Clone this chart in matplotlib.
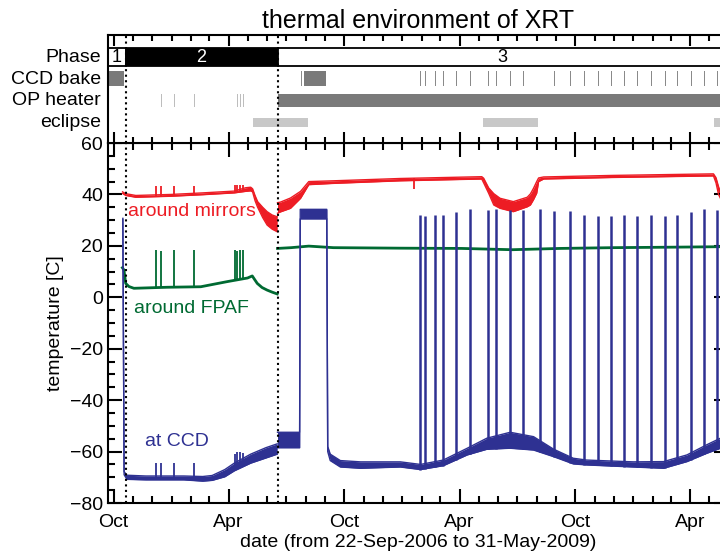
import numpy as np
import matplotlib
matplotlib.use('Agg')
import matplotlib.pyplot as plt
import matplotlib.dates as mdates
from matplotlib.ticker import MultipleLocator, NullLocator
from datetime import datetime

plt.rcParams['font.family'] = ['Liberation Sans', 'DejaVu Sans']

# time axis: days counted from 22-Sep-2006 (end 31-May-2009)
t0 = mdates.date2num(datetime(2006, 9, 22))
t1 = mdates.date2num(datetime(2009, 5, 31))

# phases (day boundaries)
phase_edges = [0, 28, 268.5, 982]
phase_names = ['1', '2', '3']

# status rows: blocks (start, end) and short events (day)
ccd_bake_blocks = [(0, 25), (310, 346)]
op_heater_blocks = [(268.5, 982)]
eclipse_blocks = [(229, 316), (594, 681.5), (960, 982)]
heater_days = [75.5, 84.5, 105, 137, 200.5, 204.7, 209, 214]
bake_days = [494.8, 502.7, 517.4, 530.7, 551.7, 573.9, 601.3, 615.0, 636.1, 657.3,
             683.5, 706.3, 731.2, 754.3, 775.9, 796.5, 817.6, 838.6, 859.8, 882.4,
             901.9, 923.1, 944.1, 965.2]
bake_peak = [32.0, 31.6, 32.0, 32.0, 33.0, 34.2, 33.9, 34.2, 33.9, 33.9,
             34.3, 33.7, 33.7, 32.0, 31.6, 31.6, 32.0, 31.6, 32.0, 31.6,
             32.0, 33.0, 34.2, 33.9]

# around mirrors (band lo/hi)
red2_days = [23, 28, 44, 100, 150, 200, 218, 226, 229, 233, 237, 245, 252, 260, 268]
red2_hi = [41.0, 40.3, 39.6, 40.0, 40.6, 41.3, 42.6, 42.8, 42.2, 39.5, 37.2, 35.0, 33.3, 32.0, 31.3]
red2_lo = [40.4, 39.6, 38.9, 39.3, 39.9, 40.6, 41.2, 41.4, 41.0, 37.5, 35.0, 31.0, 28.1, 26.5, 25.5]
red3_days = [268.5, 273, 289, 305, 318, 357, 463, 592, 595, 603, 611, 621, 642, 664,
             669, 674, 679, 682, 690, 800, 959, 963, 967, 970, 982]
red3_hi = [36.8, 37.0, 38.6, 41.2, 45.0, 45.3, 46.2, 46.9, 46.3, 42.5, 40.3, 38.5, 37.2, 38.9,
           40.2, 42.4, 45.0, 46.4, 46.8, 47.4, 48.0, 46.5, 43.0, 41.0, 37.0]
red3_lo = [32.7, 33.2, 34.6, 38.5, 43.8, 44.3, 45.3, 46.0, 44.5, 40.4, 35.9, 34.6, 33.3, 35.2,
           35.9, 38.0, 40.5, 45.0, 46.0, 46.6, 47.2, 44.5, 40.0, 38.5, 33.0]
red_heater_peak = [43.3, 43.3, 43.3, 43.3, 43.5, 43.5, 43.5, 43.5]
red_dip_day, red_dip_low = 484.2, 42.0

# around FPAF
green2_days = [22.8, 25.3, 28, 33, 41, 94, 147, 189, 221, 228.5, 232, 236.4, 244, 252, 260, 268]
green2 = [11.5, 10.6, 5.4, 4.2, 3.5, 3.9, 4.1, 6.1, 7.5, 8.3, 7.0, 5.4, 3.8, 2.8, 2.0, 1.3]
green3_days = [268.5, 290, 318, 357, 463, 560, 640, 716, 800, 900, 982]
green3 = [19.0, 19.3, 19.9, 19.3, 19.1, 19.0, 18.5, 19.0, 19.3, 19.5, 19.7]
green_heater_peak = [18.4, 18.0, 18.4, 18.4, 18.4, 18.0, 18.4, 18.4]

# at CCD (band lo/hi)
blue2_days = [23.5, 25.5, 30, 60, 120, 150, 165, 185, 200, 226, 250, 268]
blue2_hi = [30.7, -67.8, -69.2, -69.5, -69.5, -69.7, -69.3, -67.0, -64.5, -61.0, -58.5, -57.0]
blue2_lo = [30.3, -69.0, -70.8, -71.0, -71.0, -71.5, -71.2, -69.8, -67.5, -64.5, -62.5, -61.0]
blue3_days = [268.5, 303.5, 304.5, 346.5, 348, 352, 368, 400, 463, 495, 531, 569, 600, 637,
              674, 706, 737, 758, 832, 880, 917, 948, 970, 982]
blue3_hi = [-52.5, -52.5, 34.2, 34.2, -58.0, -61.0, -63.5, -64.0, -64.0, -65.0, -63.3, -58.7,
            -54.8, -52.5, -54.2, -59.1, -62.6, -63.3, -64.0, -63.9, -61.3, -57.4, -54.8, -53.0]
blue3_lo = [-58.5, -58.5, 30.5, 30.5, -60.0, -63.5, -66.0, -66.5, -66.0, -67.0, -65.5, -61.3,
            -59.1, -58.7, -59.4, -62.0, -64.8, -65.2, -66.0, -66.5, -63.9, -60.7, -58.7, -57.0]
blue_heater_peak = [-64.6, -64.6, -64.6, -64.6, -61.0, -60.0, -60.0, -60.5]

RED = '#ed1c24'
GREEN = '#006a32'
BLUE = '#2e3192'

fig = plt.figure(figsize=(7.2, 5.57), dpi=100)
x0, x1 = 108 / 720, 728 / 720
ax = fig.add_axes([x0, 54 / 557, x1 - x0, 360 / 557])
ax_s = fig.add_axes([x0, 414 / 557, x1 - x0, 108 / 557])


def d(days):
    return t0 + np.asarray(days, dtype=float)


def band(axis, days, lo, hi, color):
    axis.fill_between(d(days), lo, hi, color=color, lw=0)
    axis.plot(d(days), lo, color=color, lw=1)
    axis.plot(d(days), hi, color=color, lw=1)


# ---- main temperature panel
band(ax, red2_days, red2_lo, red2_hi, RED)
band(ax, red3_days, red3_lo, red3_hi, RED)
ax.vlines(d(heater_days), np.interp(heater_days, red2_days, red2_lo), red_heater_peak,
          color=RED, lw=1.3)
ax.vlines(d([red_dip_day]), red_dip_low, np.interp(red_dip_day, red3_days, red3_hi),
          color=RED, lw=1.3)

ax.plot(d(green2_days), green2, color=GREEN, lw=2)
ax.plot(d(green3_days), green3, color=GREEN, lw=2)
ax.vlines(d(heater_days), np.interp(heater_days, green2_days, green2), green_heater_peak,
          color=GREEN, lw=1.3)

band(ax, blue2_days, blue2_lo, blue2_hi, BLUE)
band(ax, blue3_days, blue3_lo, blue3_hi, BLUE)
ax.vlines(d(heater_days), np.interp(heater_days, blue2_days, blue2_lo), blue_heater_peak,
          color=BLUE, lw=1.3)
ax.vlines(d(bake_days), np.interp(bake_days, blue3_days, blue3_lo), bake_peak,
          color=BLUE, lw=1.8)

ax.text(d(31), 33.2, 'around mirrors', color=RED, fontsize=14, va='center')
ax.text(d(41), -4.3, 'around FPAF', color=GREEN, fontsize=14, va='center')
ax.text(d(58), -56, 'at CCD', color=BLUE, fontsize=14, va='center')

for e in phase_edges[1:3]:
    ax.axvline(d(e), color='black', ls=':', lw=1.5)
    ax_s.axvline(d(e), color='black', ls=':', lw=1.5)

ax.set_xlim(t0, t1)
ax.set_ylim(-80, 60)
ax.xaxis.set_major_locator(mdates.MonthLocator(bymonth=[4, 10]))
ax.xaxis.set_minor_locator(mdates.MonthLocator())
ax.xaxis.set_major_formatter(mdates.DateFormatter('%b'))
ax.yaxis.set_major_locator(MultipleLocator(20))
ax.yaxis.set_minor_locator(MultipleLocator(5))
ax.tick_params(which='both', direction='in', top=True, right=True, width=1.5, labelsize=14)
ax.tick_params(which='major', length=10)
ax.tick_params(which='minor', length=5)
ax.tick_params(axis='x', pad=8)
ax.set_ylabel('temperature [C]', fontsize=14)
ax.set_xlabel('date (from 22-Sep-2006 to 31-May-2009)', fontsize=14, labelpad=2)
for s in ax.spines.values():
    s.set_linewidth(1.5)

# ---- status panel (y in pixels from its top)
ax_s.set_xlim(t0, t1)
ax_s.set_ylim(108, 0)
for (a, b), name, fc, tc in zip(zip(phase_edges[:-1], phase_edges[1:]), phase_names,
                                ['white', 'black', 'white'], ['black', 'white', 'black']):
    ax_s.barh(22, b - a, left=d(a), height=18, color=fc, edgecolor='black', lw=1.3)
    ax_s.text(d((a + b) / 2), 22.5, name, color=tc, fontsize=13, ha='center', va='center')

ax_s.broken_barh([(d(a), b - a) for a, b in ccd_bake_blocks], (36, 15), facecolors='#7a7a7a')
ax_s.broken_barh([(d(x), 1.5) for x in bake_days] + [(d(306), 1.0)], (36, 15),
                 facecolors='#8a8a8a')
ax_s.broken_barh([(d(a), b - a) for a, b in op_heater_blocks], (59, 13), facecolors='#7a7a7a')
ax_s.broken_barh([(d(x), 1.0) for x in heater_days], (59, 13), facecolors='#bdbdbd')
ax_s.broken_barh([(d(a), b - a) for a, b in eclipse_blocks], (83, 9), facecolors='#c8c8c8')

row_names = ['Phase', 'CCD bake', 'OP heater', 'eclipse']
row_y = [22, 44, 65.5, 87.5]
for name, y in zip(row_names, row_y):
    ax_s.text(-0.011, y, name, transform=ax_s.get_yaxis_transform(), fontsize=14,
              ha='right', va='center')

ax_s.xaxis.set_major_locator(mdates.MonthLocator(bymonth=[4, 10]))
ax_s.xaxis.set_minor_locator(mdates.MonthLocator())
ax_s.yaxis.set_major_locator(NullLocator())
ax_s.tick_params(axis='x', which='both', direction='in', top=True, bottom=True,
                 labelbottom=False, width=1.5)
ax_s.tick_params(axis='x', which='major', length=8)
ax_s.tick_params(axis='x', which='minor', length=4)
for s in ax_s.spines.values():
    s.set_linewidth(1.5)
ax_s.set_title('thermal environment of XRT', fontsize=18, pad=5)

fig.savefig('out.png', dpi=100)
